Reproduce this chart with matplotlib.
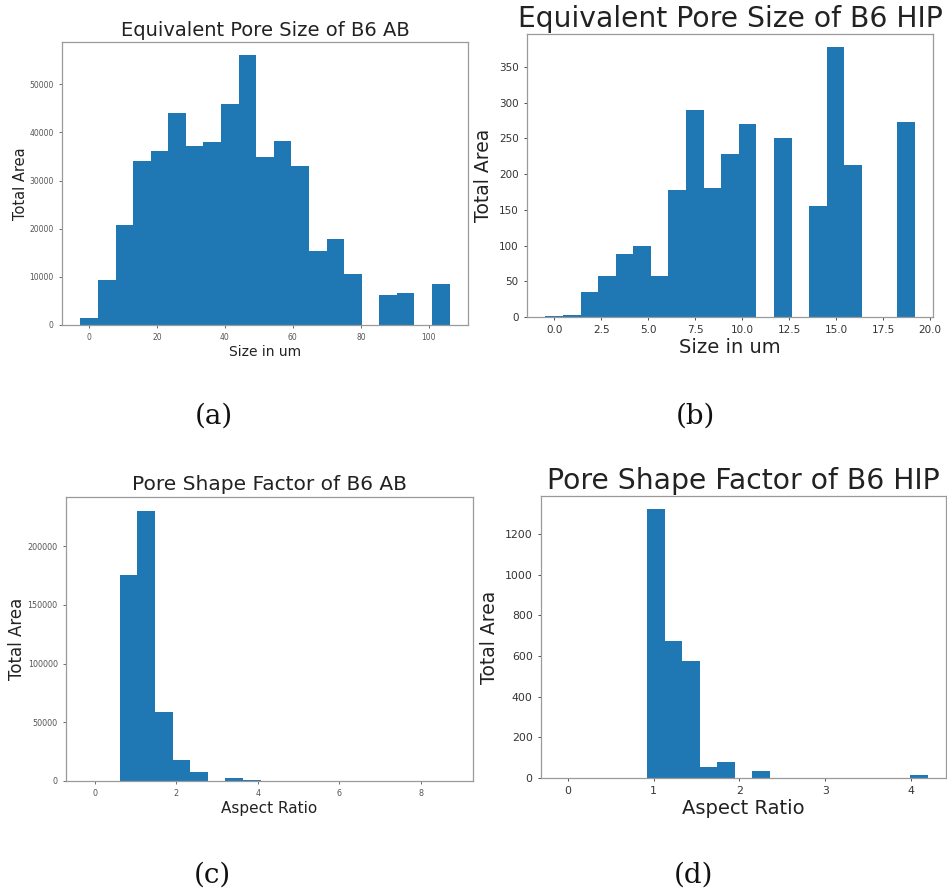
import numpy as np
import matplotlib
matplotlib.use('Agg')
import matplotlib.pyplot as plt

# histogram data (21 bins per panel, total pore area per bin)
ab_size_range = (-2.5, 106.1)
ab_size_area = [1500, 9400, 20800, 34100, 36200, 44000, 37200, 38100, 46000, 56000,
                35000, 38300, 33000, 15300, 17800, 10600, 0, 6150, 6750, 0, 8450]

hip_size_range = (-0.46, 19.17)
hip_size_area = [2, 3, 35, 57, 88, 100, 58, 178, 289, 180,
                 228, 270, 0, 250, 0, 155, 377, 213, 0, 0, 273]

ab_shape_range = (-0.247, 8.82)
ab_shape_area = [0, 0, 175000, 230300, 58500, 17600, 7900, 300, 2300, 500,
                 0, 0, 0, 0, 0, 0, 0, 0, 0, 0, 0]

hip_shape_range = (-0.096, 4.19)
hip_shape_area = [0, 0, 0, 0, 0, 1320, 675, 575, 55, 78,
                  0, 33, 0, 0, 0, 0, 0, 0, 0, 0, 17]

ab_size_xticks = [0, 20, 40, 60, 80, 100]
ab_size_yticks = [0, 10000, 20000, 30000, 40000, 50000]
hip_size_xticks = [0.0, 2.5, 5.0, 7.5, 10.0, 12.5, 15.0, 17.5, 20.0]
hip_size_yticks = [0, 50, 100, 150, 200, 250, 300, 350]
ab_shape_xticks = [0, 2, 4, 6, 8]
ab_shape_yticks = [0, 50000, 100000, 150000, 200000]
hip_shape_xticks = [0, 1, 2, 3, 4]
hip_shape_yticks = [0, 200, 400, 600, 800, 1000, 1200]

W, H = 947, 893
fig = plt.figure(figsize=(W / 100, H / 100), dpi=100)


def add_px_axes(l, t, r, b):
    return fig.add_axes([l / W, 1 - b / H, (r - l) / W, (b - t) / H])


def draw_hist(ax, rng, area, xticks, yticks, title, xlabel,
              title_fs, label_fs, ylabel_fs, tick_fs, tick_col, pad, ypad):
    edges = np.linspace(rng[0], rng[1], len(area) + 1)
    centers = (edges[:-1] + edges[1:]) / 2
    ax.hist(centers, bins=edges, weights=area, color='#1f77b4')
    ax.set_xticks(xticks)
    ax.set_yticks(yticks)
    ax.set_title(title, fontsize=title_fs, pad=pad, color='#222222')
    ax.set_xlabel(xlabel, fontsize=label_fs, labelpad=2, color='#222222')
    ax.set_ylabel('Total Area', fontsize=ylabel_fs, labelpad=ypad, color='#222222')
    ax.tick_params(labelsize=tick_fs, colors=tick_col, length=2.5, width=0.6)
    for s in ax.spines.values():
        s.set_color('#9a9a9a')
        s.set_linewidth(0.9)


ax_a = add_px_axes(62, 42, 468, 325)
draw_hist(ax_a, ab_size_range, ab_size_area, ab_size_xticks, ab_size_yticks,
          'Equivalent Pore Size of B6 AB', 'Size in um',
          14, 10, 10.5, 5.5, '#555555', 4, 1)

ax_b = add_px_axes(527, 34, 933, 317)
draw_hist(ax_b, hip_size_range, hip_size_area, hip_size_xticks, hip_size_yticks,
          'Equivalent Pore Size of B6 HIP', 'Size in um',
          20.3, 14, 13.5, 7.5, '#333333', 5, 4)

ax_c = add_px_axes(66, 497, 473, 781)
draw_hist(ax_c, ab_shape_range, ab_shape_area, ab_shape_xticks, ab_shape_yticks,
          'Pore Shape Factor of B6 AB', 'Aspect Ratio',
          14.5, 11, 12, 5.8, '#555555', 5, 1)

ax_d = add_px_axes(541, 496, 946, 778)
draw_hist(ax_d, hip_shape_range, hip_shape_area, hip_shape_xticks, hip_shape_yticks,
          'Pore Shape Factor of B6 HIP', 'Aspect Ratio',
          20.3, 14, 13.5, 7.8, '#333333', 5, 4)

# subfigure captions
for txt, x, y in [('(a)', 214, 416), ('(b)', 695, 416), ('(c)', 212.5, 875.5), ('(d)', 694, 875.5)]:
    fig.text(x / W, 1 - y / H, txt, family='DejaVu Serif', fontsize=20,
             ha='center', va='center', color='#111111')

fig.savefig('out.png', dpi=100)
